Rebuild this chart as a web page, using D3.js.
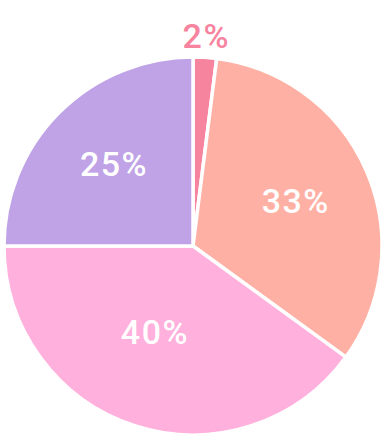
<!DOCTYPE html>
<html>
<head>
<meta charset="utf-8">
<script src="https://cdn.jsdelivr.net/npm/d3@7/dist/d3.min.js"></script>
<style>
html,body{margin:0;padding:0;background:#fff;}
svg{display:block;}
</style>
</head>
<body>
<svg id="chart" width="385" height="438"></svg>
<script>
const categories = ["A", "B", "C", "D"];
const values = [2, 33, 40, 25];
const labels = ["2%", "33%", "40%", "25%"];
const colors = ["#f7849f", "#ffb0a4", "#ffb0dc", "#c0a2e6"];

const width = 385, height = 438;
const cx = 193, cy = 246, R = 189;
// label placement: radial distance and small angular nudge (radians) per slice
const labelPos = [
  {outside: true, r: R + 22, da: 0},
  {r: R * 0.595, da: -0.01},
  {r: R * 0.495, da: 0.105},
  {r: R * 0.603, da: 0.02}
];

const svg = d3.select("#chart");
const g = svg.append("g").attr("transform", `translate(${cx},${cy})`);

const pie = d3.pie().sort(null).value(d => d)(values);
const arc = d3.arc().innerRadius(0).outerRadius(R);

g.selectAll("path.slice")
  .data(pie)
  .join("path")
  .attr("class", "slice")
  .attr("d", arc)
  .attr("fill", (d, i) => colors[i])
  .attr("stroke", "#fff")
  .attr("stroke-width", 3.5)
  .attr("stroke-linejoin", "round");

g.selectAll("text.lbl")
  .data(pie)
  .join("text")
  .attr("class", "lbl")
  .attr("transform", (d, i) => {
    const a = (d.startAngle + d.endAngle) / 2 + labelPos[i].da;
    const r = labelPos[i].r;
    return `translate(${r * Math.sin(a)},${-r * Math.cos(a)})`;
  })
  .attr("text-anchor", "middle")
  .attr("dy", "0.36em")
  .attr("font-family", "Roboto, sans-serif")
  .attr("font-weight", 500)
  .attr("font-size", 34)
  .attr("letter-spacing", 1.5)
  .attr("fill", (d, i) => labelPos[i].outside ? colors[i] : "#fff")
  .text((d, i) => labels[i]);
</script>
</body>
</html>
